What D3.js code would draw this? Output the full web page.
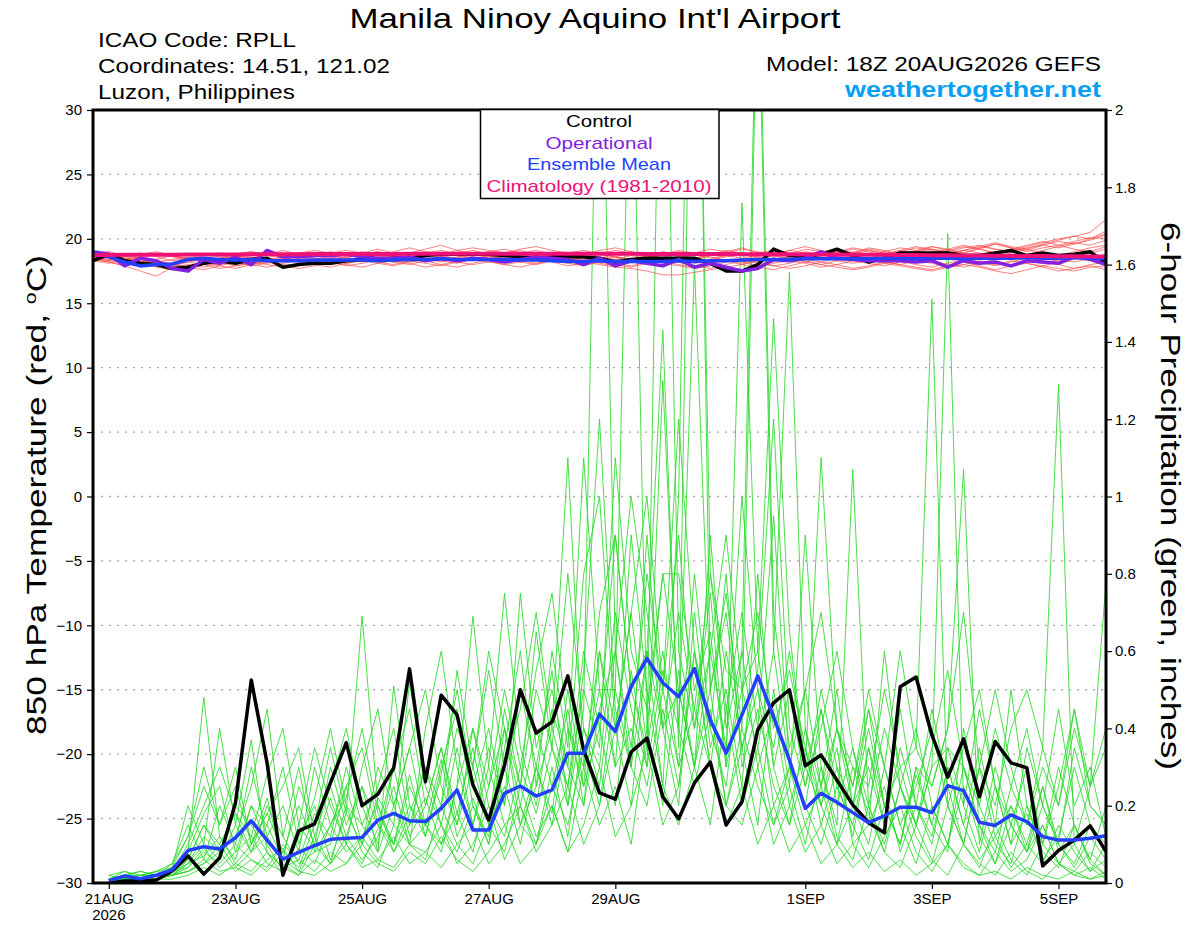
<!DOCTYPE html>
<html>
<head>
<meta charset="utf-8">
<script src="https://cdn.jsdelivr.net/npm/d3@7"></script>
<style>
  body { margin: 0; background: #fff; }
  svg text { font-family: "Liberation Sans", Arial, Helvetica, sans-serif; }
</style>
</head>
<body>
<svg id="chart"></svg>
<script>
// model run and time axis
const modelRunUtc = Date.UTC(2026, 7, 20, 18);
const stepHours = 6;
const totalSteps = 64;
const dateTickTimes = ['2026-08-21', '2026-08-23', '2026-08-25', '2026-08-27', '2026-08-29', '2026-09-01', '2026-09-03', '2026-09-05'];
const dateTickLabels = ['21AUG', '23AUG', '25AUG', '27AUG', '29AUG', '1SEP', '3SEP', '5SEP'];
const tempTicks = [-30, -25, -20, -15, -10, -5, 0, 5, 10, 15, 20, 25, 30];
const precipTicks = [0, 0.2, 0.4, 0.6, 0.8, 1, 1.2, 1.4, 1.6, 1.8, 2];
const legendLabels = ['Control', 'Operational', 'Ensemble Mean', 'Climatology (1981-2010)'];

// 850 hPa temperature, one value every 6h from the model run (65 values)
const controlTemp = [
  18.3,18.8,18.3,18.1,18.0,17.7,17.8,18.1,18.3,18.1,18.4,18.5,17.8,
  18.0,18.1,18.1,18.3,18.4,18.4,18.5,18.5,18.7,18.8,18.8,18.8,18.8,
  18.7,18.6,18.5,18.6,18.6,18.6,18.5,18.2,18.4,18.5,18.5,18.5,18.5,
  18.1,17.5,17.5,18.0,19.2,18.7,18.6,18.8,19.2,18.7,18.2,18.5,18.9,
  18.9,18.9,18.9,18.7,18.7,18.9,19.1,18.7,18.9,18.7,18.8,19.0,18.1];
const operationalTemp = [
  19.0,18.8,17.9,18.5,18.3,17.7,17.5,18.4,18.1,18.6,18.0,19.1,18.6,
  18.6,18.7,18.7,18.8,18.6,18.5,18.5,18.6,18.3,18.5,18.3,18.5,18.4,
  18.2,18.4,18.6,18.5,18.4,18.0,18.5,17.9,18.3,18.1,17.9,18.4,17.8,
  18.1,17.8,17.5,17.7,18.4,18.3,18.5,19.0,18.5,18.4,18.3,18.3,18.3,
  18.2,18.3,17.8,18.3,18.1,18.2,17.9,18.3,18.2,18.1,18.6,18.4,18.0];
const ensembleMeanTemp = [
  18.90,18.60,18.20,17.90,18.00,18.05,18.40,18.50,18.40,18.35,18.40,18.30,18.30,
  18.30,18.35,18.35,18.35,18.35,18.30,18.35,18.40,18.40,18.45,18.40,18.40,18.40,
  18.40,18.35,18.35,18.30,18.25,18.25,18.30,18.25,18.25,18.25,18.25,18.30,18.25,
  18.30,18.30,18.35,18.40,18.40,18.40,18.45,18.45,18.45,18.45,18.45,18.50,18.50,
  18.45,18.50,18.50,18.45,18.50,18.50,18.50,18.55,18.50,18.50,18.55,18.50,18.45];
const climatologyTemp = [
  18.75,18.75,18.76,18.76,18.77,18.77,18.78,18.78,18.79,18.79,18.80,18.80,18.81,
  18.81,18.82,18.82,18.82,18.83,18.83,18.83,18.84,18.84,18.84,18.84,18.85,18.85,
  18.85,18.85,18.85,18.85,18.85,18.84,18.84,18.84,18.84,18.83,18.83,18.83,18.82,
  18.82,18.82,18.81,18.81,18.80,18.80,18.79,18.79,18.78,18.77,18.77,18.76,18.75,
  18.74,18.73,18.72,18.71,18.70,18.69,18.68,18.67,18.66,18.65,18.64,18.63,18.62];

// ensemble member temperatures
const tempM01 = [18.6,18.4,18.2,18.0,17.9,18.1,18.3,18.5,18.4,18.6,18.8,18.5,18.3,18.4,18.6,18.7,18.5,18.8,19.0,18.7,18.5,18.6,18.9,18.7,18.4,18.6,18.8,19.1,18.7,18.5,18.3,18.6,18.9,18.6,18.4,18.7,19.0,18.8,18.5,18.7,19.0,19.3,18.9,18.6,18.8,19.2,19.0,18.7,18.9,19.3,19.1,18.8,19.0,19.4,19.2,18.9,19.3,19.6,19.3,19.1,19.5,19.8,19.6,19.9,20.3];
const tempM02 = [18.7,18.9,18.5,18.2,18.3,18.0,17.8,18.0,18.2,17.9,18.1,18.3,18.0,17.9,18.2,18.4,18.1,18.3,18.5,18.2,18.4,18.6,18.3,18.1,18.4,18.7,18.5,18.2,18.0,18.3,18.6,18.4,18.1,17.9,18.2,18.5,18.3,18.0,17.8,18.1,18.4,18.2,17.9,18.2,18.5,18.3,18.0,18.3,18.6,18.4,18.1,18.3,18.0,17.8,18.1,18.4,18.2,17.9,18.2,18.5,18.3,18.0,17.7,18.0,18.2];
const tempM03 = [18.5,18.3,18.6,18.4,18.1,17.9,18.2,18.0,17.7,17.9,18.2,18.4,18.6,18.9,18.7,18.5,18.8,19.0,18.8,18.6,18.9,19.2,19.5,19.1,18.8,18.9,18.7,18.5,18.8,18.6,18.4,18.2,18.0,17.8,17.7,17.5,17.2,17.2,17.4,17.6,17.8,18.0,18.3,18.5,18.4,18.7,18.9,18.6,18.8,19.1,18.9,18.7,19.0,19.2,18.9,19.1,19.4,19.2,19.0,19.3,19.5,19.3,19.6,20.0,20.6];
const tempM04 = [18.8,18.6,18.3,18.5,18.2,18.4,18.6,18.3,18.5,18.8,19.0,18.7,18.5,18.2,18.4,18.7,18.5,18.3,18.6,18.9,18.7,18.4,18.2,18.5,18.8,19.0,19.2,18.9,18.6,18.4,18.7,18.5,18.2,18.4,18.7,18.5,18.8,19.1,18.9,18.6,18.3,18.1,18.4,18.7,18.5,18.2,18.5,18.8,19.0,18.8,18.5,18.3,18.6,18.9,19.2,19.5,19.2,18.9,19.1,19.4,19.7,20.0,20.2,20.5,21.5];
const tempM05 = [18.4,18.2,17.9,17.5,17.1,17.8,18.0,17.8,18.1,18.3,18.0,17.8,18.1,18.3,18.1,18.0,18.2,18.4,18.2,18.0,18.3,18.1,17.9,18.2,18.4,18.2,18.0,17.8,18.1,18.3,18.5,18.2,18.4,18.6,18.3,18.1,18.4,18.2,17.9,18.1,18.3,18.0,17.8,17.6,17.9,18.2,18.0,17.8,17.6,17.8,18.1,17.9,17.7,17.5,17.8,18.0,17.8,17.5,17.3,17.6,17.9,17.7,17.5,17.8,17.9];
const tempM06 = [18.9,19.0,18.7,18.5,18.8,18.6,18.4,18.7,18.9,18.7,18.5,18.8,19.1,18.8,18.6,18.9,19.1,18.9,18.7,19.0,19.3,19.0,18.8,19.1,19.3,19.1,18.9,19.2,19.4,19.1,18.9,18.7,18.9,19.1,18.9,18.6,18.8,19.0,18.8,18.5,18.7,18.9,18.6,18.4,18.7,19.0,18.8,18.6,18.9,19.2,19.0,18.8,19.1,19.4,19.1,18.9,19.2,19.6,19.3,19.0,19.3,19.5,19.2,19.0,19.4];
const tempM07 = [18.3,18.1,18.4,18.6,18.3,18.1,17.8,17.6,17.9,18.2,18.0,18.3,18.5,18.2,18.0,17.8,18.1,18.3,18.1,17.9,18.2,18.5,18.3,18.6,18.9,18.7,18.4,18.6,18.9,18.7,18.4,18.2,18.5,18.8,19.0,18.7,18.5,18.3,18.1,18.3,18.6,18.8,18.5,18.3,18.6,18.4,18.2,18.5,18.7,18.5,18.2,18.0,18.3,18.1,17.8,18.0,18.3,18.1,17.9,18.2,18.5,18.3,18.6,18.9,19.2];
const tempM08 = [18.6,18.7,18.4,18.2,18.4,18.7,18.5,18.2,18.0,18.3,18.6,18.4,18.2,18.5,18.8,18.6,18.4,18.2,18.5,18.7,18.5,18.3,18.6,18.9,18.6,18.4,18.7,18.5,18.3,18.6,18.9,19.1,18.8,18.6,18.9,18.7,18.4,18.6,18.9,19.2,19.0,18.7,18.9,19.1,18.8,18.6,18.9,19.2,18.9,18.7,19.0,19.3,19.1,18.8,19.1,19.4,19.2,18.9,19.2,19.5,19.8,19.5,19.8,20.1,20.0];
const tempM09 = [18.5,18.3,18.1,18.3,18.0,17.7,17.9,18.2,18.4,18.2,17.9,18.1,18.4,18.6,18.4,18.2,17.9,18.1,18.4,18.2,18.0,18.3,18.5,18.2,18.0,18.2,18.5,18.3,18.1,18.3,18.1,17.9,18.2,18.0,17.8,18.1,18.3,18.5,18.2,18.0,17.7,17.5,17.8,18.1,18.3,18.1,17.8,18.0,18.3,18.1,17.9,18.2,18.5,18.3,18.0,17.8,18.1,18.4,18.6,18.3,18.1,18.4,18.2,18.5,18.8];
const tempM10 = [18.7,18.5,18.7,18.9,18.6,18.3,18.5,18.8,18.6,18.4,18.7,19.0,18.7,18.5,18.7,19.0,18.8,18.5,18.7,18.5,18.2,18.4,18.7,18.5,18.3,18.6,18.4,18.2,18.5,18.8,18.6,18.3,18.6,18.4,18.2,18.5,18.7,18.4,18.2,18.4,18.7,18.5,18.7,19.0,18.8,18.5,18.8,19.0,18.7,18.5,18.8,19.1,18.9,18.6,18.8,19.1,18.9,18.6,18.9,19.2,18.9,18.7,19.0,19.3,19.5];
const tempM11 = [18.4,18.6,18.8,18.5,18.3,18.0,18.2,18.4,18.2,18.5,18.3,18.0,17.8,18.1,18.3,18.5,18.3,18.6,18.4,18.2,18.5,18.3,18.0,17.8,18.1,18.4,18.6,18.4,18.7,18.9,18.7,18.5,18.3,18.0,18.2,18.4,18.1,17.9,17.7,17.9,18.2,18.4,18.2,17.9,18.1,18.4,18.6,18.3,18.1,18.3,18.6,18.4,18.2,18.5,18.7,18.5,18.2,18.0,18.3,18.1,17.9,18.2,18.4,18.7,18.6];
const tempM12 = [18.6,18.4,18.6,18.8,19.0,18.7,18.4,18.3,18.5,18.8,19.0,18.8,18.6,18.9,19.1,18.9,18.6,18.8,19.0,18.8,18.6,18.9,19.1,18.8,18.5,18.7,18.9,18.7,18.4,18.6,18.3,18.5,18.8,18.6,18.4,18.7,18.9,18.6,18.4,18.7,18.9,19.2,19.0,18.8,19.1,18.9,18.7,19.0,19.3,19.1,18.8,19.1,19.4,19.2,19.0,19.3,19.5,19.2,19.0,18.8,19.1,19.4,19.7,19.5,19.9];
const tempM13 = [18.5,18.2,17.9,18.1,17.8,17.6,17.9,18.1,17.9,17.7,18.0,18.2,17.9,17.7,17.9,18.2,18.0,17.8,18.1,18.3,18.1,17.8,18.0,18.3,18.5,18.3,18.0,18.2,18.4,18.2,17.9,18.1,18.3,18.1,17.9,18.2,18.4,18.2,17.9,17.7,18.0,18.3,18.1,17.9,17.7,17.9,18.2,18.0,17.7,17.9,18.2,18.0,17.8,17.6,17.9,18.2,17.9,17.6,17.9,18.1,17.8,17.5,17.7,17.9,17.6];
const tempM14 = [18.8,18.6,18.4,18.6,18.9,18.7,18.5,18.2,18.4,18.7,18.5,18.2,18.4,18.7,18.5,18.3,18.6,18.9,19.2,18.9,18.7,18.4,18.6,18.9,19.1,18.8,18.6,18.9,19.1,18.8,18.6,18.8,19.1,19.3,19.0,18.7,18.9,18.7,18.5,18.8,19.1,18.9,18.6,18.8,19.1,19.4,19.1,18.9,19.2,19.0,18.7,19.0,19.3,19.1,18.8,19.1,19.4,19.7,19.4,19.2,19.6,19.9,20.2,20.0,20.4];

// 6-hour precipitation (inches), first value is the 6h ending 00Z 21AUG (64 values)
const controlPrecip = [
  0.000,0.005,0.005,0.008,0.031,0.070,0.023,0.065,
  0.207,0.525,0.310,0.020,0.135,0.153,0.259,0.363,
  0.200,0.230,0.298,0.554,0.262,0.486,0.435,0.254,
  0.163,0.305,0.500,0.388,0.417,0.536,0.344,0.233,
  0.217,0.339,0.375,0.223,0.166,0.259,0.313,0.150,
  0.210,0.396,0.466,0.500,0.303,0.331,0.266,0.202,
  0.156,0.130,0.508,0.533,0.383,0.274,0.373,0.223,
  0.366,0.311,0.298,0.044,0.084,0.111,0.148,0.081];
const ensembleMeanPrecip = [
  0.006,0.018,0.011,0.020,0.034,0.084,0.094,0.088,
  0.117,0.161,0.111,0.062,0.079,0.097,0.113,0.116,
  0.118,0.163,0.180,0.161,0.159,0.193,0.241,0.137,
  0.137,0.232,0.251,0.225,0.241,0.336,0.336,0.437,
  0.392,0.508,0.581,0.518,0.482,0.555,0.422,0.336,
  0.435,0.536,0.430,0.318,0.193,0.232,0.209,0.182,
  0.156,0.174,0.196,0.196,0.182,0.252,0.239,0.157,
  0.149,0.176,0.159,0.120,0.111,0.111,0.116,0.122];

// ensemble member precipitation
const precipM01 = [0.01,0.02,0.01,0.02,0.03,0.08,0.48,0.12, 0.06,0.20,0.10,0.03,0.15,0.09,0.22,0.10, 0.05,0.14,0.30,0.12,0.20,0.35,0.18,0.08, 0.25,0.40,0.15,0.30,0.55,0.20,0.45,2.60, 0.60,0.30,0.90,0.40,0.20,0.70,0.35,0.50, 0.25,0.80,0.30,0.15,0.40,0.20,0.10,0.30, 0.18,0.08,0.25,0.12,0.05,0.20,0.10,0.04, 0.15,0.06,0.02,0.10,0.05,0.03,0.08,0.04];
const precipM02 = [0.00,0.01,0.02,0.01,0.02,0.05,0.10,0.40, 0.15,0.37,0.08,0.02,0.12,0.20,0.06,0.18, 0.69,0.20,0.10,0.28,0.12,0.30,0.45,0.20, 0.10,0.35,0.60,0.25,0.40,1.10,0.30,0.50, 0.50,2.40,0.40,0.80,0.50,0.30,0.90,0.40, 0.60,2.50,0.70,0.35,0.50,0.25,0.40,0.20, 0.30,0.15,0.35,0.20,0.45,0.25,0.10,0.30, 0.12,0.20,0.08,0.15,0.05,0.10,0.03,0.06];
const precipM03 = [0.01,0.03,0.01,0.02,0.04,0.12,0.25,0.15, 0.30,0.10,0.22,0.05,0.02,0.10,0.30,0.15, 0.25,0.08,0.51,0.20,0.15,0.10,0.25,0.40, 0.20,0.12,0.30,0.18,0.35,0.25,0.60,0.40, 0.90,0.50,0.60,1.43,0.35,3.00,0.80,0.45, 0.70,0.40,0.95,0.30,0.20,0.45,0.25,0.15, 0.35,0.20,0.10,0.28,0.15,0.35,0.20,0.08, 0.25,0.10,0.18,0.06,0.12,0.30,0.15,0.10];
const precipM04 = [0.02,0.01,0.01,0.03,0.02,0.06,0.15,0.08, 0.12,0.25,0.45,0.12,0.05,0.08,0.15,0.25, 0.10,0.22,0.15,0.52,0.25,0.15,0.35,0.15, 0.30,0.75,0.35,0.20,0.45,0.30,0.80,1.00, 0.40,0.70,0.35,2.80,0.60,0.40,0.75,0.30, 0.50,0.35,0.60,1.58,0.40,0.25,0.50,0.20, 0.10,0.30,0.15,0.05,0.20,0.10,0.25,0.12, 0.05,0.15,0.08,0.20,0.10,0.04,0.12,0.06];
const precipM05 = [0.00,0.01,0.00,0.01,0.02,0.03,0.05,0.10, 0.04,0.08,0.15,0.06,0.03,0.12,0.05,0.20, 0.08,0.04,0.15,0.10,0.06,0.20,0.10,0.05, 0.15,0.08,0.25,0.12,0.20,0.08,0.30,0.15, 0.25,0.10,0.40,0.20,0.55,0.30,0.15,0.45, 0.20,0.35,0.15,0.25,0.10,0.30,0.12,0.06, 0.20,0.08,0.04,0.15,0.06,0.02,0.10,0.05, 0.02,0.08,0.03,0.01,0.05,0.02,0.01,0.03];
const precipM06 = [0.01,0.02,0.03,0.02,0.03,0.10,0.20,0.30, 0.18,0.12,0.28,0.40,0.15,0.35,0.20,0.10, 0.30,0.45,0.20,0.35,0.50,0.25,0.15,0.30, 0.55,0.30,0.45,0.70,0.40,0.25,0.50,0.35, 1.10,0.60,0.45,0.80,0.80,0.50,0.65,0.30, 1.76,0.60,0.30,0.50,0.25,0.40,0.60,0.35, 0.20,0.40,0.25,0.15,0.35,0.55,0.30,0.20, 0.40,0.25,0.15,0.30,0.20,0.45,0.25,0.35];
const precipM07 = [0.00,0.00,0.01,0.01,0.02,0.04,0.08,0.05, 0.10,0.06,0.03,0.08,0.20,0.10,0.05,0.12, 0.25,0.15,0.08,0.18,0.30,0.15,0.08,0.20, 0.12,0.40,0.20,0.10,0.25,0.45,0.20,0.60, 0.30,0.90,0.50,0.25,1.00,3.20,0.50,0.70, 0.35,0.50,0.20,0.30,0.15,0.25,0.10,0.20, 0.45,0.20,0.10,0.30,0.15,0.08,0.40,0.20, 0.10,0.05,0.20,0.08,0.04,0.15,0.06,0.02];
const precipM08 = [0.01,0.01,0.02,0.03,0.05,0.15,0.06,0.20, 0.10,0.30,0.12,0.06,0.25,0.15,0.35,0.18, 0.10,0.30,0.20,0.10,0.40,0.60,0.30,0.15, 0.35,0.20,0.50,0.30,0.15,0.40,0.25,0.70, 0.90,0.50,0.35,0.60,0.30,0.45,0.80,0.55, 0.50,0.60,1.46,0.65,0.30,0.45,0.20,0.35, 0.15,0.60,0.25,0.40,0.20,0.10,0.30,0.15, 0.08,0.25,0.40,0.20,0.10,0.05,0.15,0.08];
const precipM09 = [0.00,0.01,0.01,0.02,0.02,0.05,0.12,0.08, 0.20,0.15,0.08,0.04,0.06,0.18,0.12,0.30, 0.15,0.08,0.20,0.35,0.15,0.08,0.25,0.69, 0.30,0.15,0.20,0.40,0.25,0.15,0.35,0.20, 0.50,0.30,0.20,0.45,0.25,0.60,0.30,0.20, 0.40,0.25,0.15,0.30,0.20,0.10,0.25,0.15, 0.06,0.20,0.10,0.30,0.25,0.40,1.07,0.10, 0.30,0.15,0.08,0.25,0.10,0.35,0.20,0.15];
const precipM10 = [0.01,0.02,0.02,0.03,0.04,0.20,0.10,0.06, 0.15,0.08,0.20,0.12,0.30,0.08,0.10,0.25, 0.35,0.15,0.10,0.20,0.12,0.28,0.50,0.25, 0.40,0.20,0.75,0.35,0.50,0.30,0.20,0.45, 0.60,1.00,0.70,0.40,0.50,0.30,0.60,0.90, 0.50,0.70,0.40,0.55,0.35,0.20,0.40,0.25, 0.50,0.30,0.15,0.25,0.40,0.20,0.10,0.30, 0.50,0.30,0.15,0.35,0.20,0.40,0.25,0.78];
const precipM11 = [0.00,0.01,0.00,0.01,0.01,0.02,0.04,0.02, 0.05,0.03,0.08,0.04,0.02,0.06,0.03,0.05, 0.10,0.05,0.03,0.08,0.05,0.12,0.06,0.03, 0.08,0.15,0.05,0.10,0.20,0.08,0.15,0.30, 0.12,0.20,0.35,0.15,0.25,0.60,0.30,0.15, 0.25,0.10,0.20,0.08,0.15,0.05,0.10,0.04, 0.08,0.03,0.06,0.02,0.05,0.10,0.04,0.02, 0.03,0.01,0.04,0.02,0.01,0.03,0.01,0.02];
const precipM12 = [0.02,0.03,0.02,0.02,0.04,0.08,0.18,0.25, 0.08,0.20,0.15,0.30,0.10,0.22,0.40,0.20, 0.15,0.25,0.40,0.15,0.30,0.20,0.40,0.30, 0.60,0.40,0.25,0.50,0.35,0.80,0.40,0.30, 0.70,0.45,0.30,0.55,0.40,1.60,0.50,0.75, 0.40,2.40,0.60,0.30,0.50,0.70,0.40,0.30, 0.25,0.50,0.30,0.35,1.51,0.20,0.35,0.50, 0.25,0.15,0.30,0.10,0.25,0.45,0.20,0.15];
const precipM13 = [0.00,0.01,0.01,0.01,0.03,0.04,0.09,0.04, 0.08,0.12,0.05,0.03,0.09,0.05,0.15,0.08, 0.12,0.20,0.08,0.15,0.22,0.10,0.18,0.35, 0.15,0.25,0.10,0.30,0.18,0.50,0.25,0.40, 0.20,0.55,0.30,1.30,0.40,0.25,0.45,0.20, 0.35,0.15,0.50,0.25,0.90,0.30,0.15,1.07, 0.20,0.10,0.25,0.15,0.30,0.35,0.30,0.15, 0.05,0.20,0.10,0.05,0.15,0.08,0.03,0.10];
const precipM14 = [0.01,0.02,0.01,0.02,0.03,0.05,0.07,0.12, 0.05,0.10,0.18,0.08,0.04,0.15,0.25,0.12, 0.06,0.12,0.25,0.10,0.15,0.32,0.12,0.22, 0.10,0.30,0.15,0.25,0.60,0.35,1.10,0.50, 0.30,0.40,0.25,0.50,0.30,0.80,0.40,0.25, 0.60,0.30,0.45,0.20,0.35,0.15,0.30,0.12, 0.35,0.15,0.45,0.20,0.10,0.30,0.15,0.35, 0.15,0.50,0.20,0.10,0.30,0.15,0.06,0.20];
const precipM15 = [0.00,0.00,0.01,0.02,0.02,0.03,0.06,0.03, 0.04,0.02,0.06,0.09,0.03,0.02,0.05,0.10, 0.04,0.06,0.12,0.05,0.08,0.04,0.10,0.15, 0.05,0.10,0.20,0.08,0.15,0.25,0.10,0.20, 0.40,0.20,0.60,0.25,0.15,0.30,0.50,0.20, 0.15,0.30,0.10,0.20,0.08,0.15,0.05,0.10, 0.04,0.12,0.20,0.08,0.03,0.10,0.05,0.02, 0.08,0.03,0.06,0.15,0.05,0.02,0.04,0.01];
const precipM16 = [0.01,0.02,0.03,0.02,0.05,0.12,0.30,0.15, 0.25,0.10,0.18,0.25,0.35,0.12,0.25,0.40, 0.20,0.10,0.30,0.45,0.20,0.35,0.15,0.40, 0.25,0.50,0.30,0.55,0.75,0.40,0.30,0.60, 0.40,0.70,1.00,0.50,0.90,0.40,0.60,0.35, 1.00,0.50,0.35,0.60,0.30,1.10,0.40,0.25, 0.45,0.30,0.60,0.35,0.25,0.40,0.70,0.30, 0.20,0.40,0.50,0.35,1.29,0.10,0.25,0.40];
const precipM17 = [0.00,0.01,0.01,0.01,0.02,0.03,0.05,0.08, 0.03,0.06,0.04,0.10,0.06,0.03,0.08,0.05, 0.12,0.06,0.04,0.10,0.08,0.15,0.05,0.10, 0.20,0.06,0.15,0.10,0.30,0.12,0.40,0.25, 0.60,0.35,0.80,0.50,1.20,0.60,0.40,0.80, 0.30,0.45,0.25,0.15,0.30,0.20,0.35,0.10, 0.15,0.25,0.08,0.20,0.12,0.30,0.15,0.06, 0.12,0.04,0.10,0.25,0.08,0.15,0.05,0.02];
const precipM18 = [0.01,0.01,0.02,0.02,0.03,0.06,0.15,0.10, 0.18,0.08,0.12,0.20,0.08,0.30,0.15,0.22, 0.40,0.18,0.10,0.25,0.15,0.20,0.55,0.30, 0.15,0.45,0.25,0.65,0.35,0.20,0.55,1.20, 0.45,0.30,0.60,0.40,0.70,0.45,0.30,0.60, 0.35,0.55,1.20,0.40,0.25,0.50,0.30,0.20, 0.40,0.20,0.30,0.15,0.30,1.68,0.20,0.45, 0.25,0.10,0.35,0.20,0.45,0.20,0.30,0.12];

const memberTemps = [tempM01, tempM02, tempM03, tempM04, tempM05, tempM06, tempM07,
                     tempM08, tempM09, tempM10, tempM11, tempM12, tempM13, tempM14];
const memberPrecips = [precipM01, precipM02, precipM03, precipM04, precipM05, precipM06,
                       precipM07, precipM08, precipM09, precipM10, precipM11, precipM12,
                       precipM13, precipM14, precipM15, precipM16, precipM17, precipM18];

// the reference lettering is wider than Liberation Sans, so stretch to its widths
function stretchText(sel, width) {
  sel.attr('textLength', width).attr('lengthAdjust', 'spacingAndGlyphs');
}

class meteogramChart {

  /**
   * Class constructor with basic chart configuration
   * @param {Object}
   */
  constructor(_config) {
    this.config = {
      parentElement: _config.parentElement,
      containerWidth: _config.containerWidth || 1200,
      containerHeight: _config.containerHeight || 927,
      margin: _config.margin || {top: 110, right: 94, bottom: 44, left: 93}
    }
    this.initVis();
  }

  /**
   * Scales, axes and static text
   */
  initVis() {
    let vis = this;

    vis.width = vis.config.containerWidth - vis.config.margin.left - vis.config.margin.right;
    vis.height = vis.config.containerHeight - vis.config.margin.top - vis.config.margin.bottom;

    vis.xScale = d3.scaleUtc()
        .domain([modelRunUtc, modelRunUtc + totalSteps * stepHours * 3600e3])
        .range([0, vis.width]);

    vis.tempScale = d3.scaleLinear()
        .domain([-30, 30])
        .range([vis.height, 0]);

    vis.precipScale = d3.scaleLinear()
        .domain([0, 2])
        .range([vis.height, 0]);

    vis.svg = d3.select(vis.config.parentElement)
        .attr('width', vis.config.containerWidth)
        .attr('height', vis.config.containerHeight);

    vis.chart = vis.svg.append('g')
        .attr('transform', `translate(${vis.config.margin.left},${vis.config.margin.top})`);

    vis.chart.append('clipPath')
        .attr('id', 'plot-clip')
      .append('rect')
        .attr('width', vis.width)
        .attr('height', vis.height);

    // titles
    vis.svg.append('text')
        .attr('x', 595)
        .attr('y', 28)
        .attr('text-anchor', 'middle')
        .style('font-size', '28px')
        .text("Manila Ninoy Aquino Int'l Airport")
        .call(stretchText, 491);

    const infoLines = ['ICAO Code: RPLL', 'Coordinates: 14.51, 121.02', 'Luzon, Philippines'];
    const infoWidths = [198, 292, 197];
    vis.svg.selectAll('.info')
        .data(infoLines)
      .join('text')
        .attr('class', 'info')
        .attr('x', 98)
        .attr('y', (d, i) => 47 + i * 26)
        .style('font-size', '21px')
        .attr('textLength', (d, i) => infoWidths[i])
        .attr('lengthAdjust', 'spacingAndGlyphs')
        .text(d => d);

    vis.svg.append('text')
        .attr('x', 1101)
        .attr('y', 71)
        .attr('text-anchor', 'end')
        .style('font-size', '21px')
        .text('Model: 18Z 20AUG2026 GEFS')
        .call(stretchText, 335);

    vis.svg.append('text')
        .attr('x', 1101)
        .attr('y', 97)
        .attr('text-anchor', 'end')
        .style('font-size', '22px')
        .style('font-weight', 'bold')
        .attr('fill', '#0a9ff5')
        .text('weathertogether.net')
        .call(stretchText, 256);

    // axis titles
    let leftTitle = vis.svg.append('text')
        .attr('transform', 'translate(46,495) rotate(-90)')
        .attr('text-anchor', 'middle')
        .style('font-size', '28px');
    leftTitle.append('tspan').text('850 hPa Temperature (red, ');
    leftTitle.append('tspan').attr('dy', -10).style('font-size', '17px').text('o');
    leftTitle.append('tspan').attr('dy', 10).text('C)');
    stretchText(leftTitle, 480);

    vis.svg.append('text')
        .attr('transform', 'translate(1161,496) rotate(90)')
        .attr('text-anchor', 'middle')
        .style('font-size', '28px')
        .text('6-hour Precipitation (green, inches)')
        .call(stretchText, 548);

    vis.renderVis();
  }

  timeAt(step) {
    return modelRunUtc + step * stepHours * 3600e3;
  }

  /**
   * Draw lines, axes and legend
   */
  renderVis() {
    let vis = this;

    // dotted grid on temperature ticks
    vis.chart.selectAll('.grid')
        .data(tempTicks.filter(d => d > -30 && d < 30))
      .join('line')
        .attr('class', 'grid')
        .attr('x1', 0)
        .attr('x2', vis.width)
        .attr('y1', d => vis.tempScale(d))
        .attr('y2', d => vis.tempScale(d))
        .attr('stroke', '#a8a8a8')
        .attr('stroke-width', 1.3)
        .attr('stroke-dasharray', '2,6');

    let plot = vis.chart.append('g').attr('clip-path', 'url(#plot-clip)');

    const tempLine = d3.line()
        .x((d, i) => vis.xScale(vis.timeAt(i)))
        .y(d => vis.tempScale(d));

    const precipLine = d3.line()
        .x((d, i) => vis.xScale(vis.timeAt(i + 1)))
        .y(d => vis.precipScale(d));

    plot.selectAll('.precip-member')
        .data(memberPrecips)
      .join('path')
        .attr('class', 'precip-member')
        .attr('d', precipLine)
        .attr('fill', 'none')
        .attr('stroke', '#2ad82a')
        .attr('stroke-opacity', 0.85)
        .attr('stroke-width', 1);

    plot.selectAll('.temp-member')
        .data(memberTemps)
      .join('path')
        .attr('class', 'temp-member')
        .attr('d', tempLine)
        .attr('fill', 'none')
        .attr('stroke', '#ff4a4a')
        .attr('stroke-opacity', 0.7)
        .attr('stroke-width', 1);

    const thickPrecip = [
      {values: controlPrecip, color: '#000000'},
      {values: ensembleMeanPrecip, color: '#2440ff'}
    ];
    plot.selectAll('.precip-main')
        .data(thickPrecip)
      .join('path')
        .attr('class', 'precip-main')
        .attr('d', d => precipLine(d.values))
        .attr('fill', 'none')
        .attr('stroke', d => d.color)
        .attr('stroke-width', 3.5)
        .attr('stroke-linejoin', 'round');

    const thickTemp = [
      {values: controlTemp, color: '#000000'},
      {values: operationalTemp, color: '#8420e0'},
      {values: ensembleMeanTemp, color: '#2440ff'},
      {values: climatologyTemp, color: '#ee1177'}
    ];
    plot.selectAll('.temp-main')
        .data(thickTemp)
      .join('path')
        .attr('class', 'temp-main')
        .attr('d', d => tempLine(d.values))
        .attr('fill', 'none')
        .attr('stroke', d => d.color)
        .attr('stroke-width', (d, i) => i === 3 ? 4 : 3.5)
        .attr('stroke-linejoin', 'round');

    // axes
    vis.yAxisG = vis.chart.append('g')
        .call(d3.axisLeft(vis.tempScale).tickValues(tempTicks).tickSize(6).tickPadding(5));

    vis.y2AxisG = vis.chart.append('g')
        .attr('transform', `translate(${vis.width},0)`)
        .call(d3.axisRight(vis.precipScale).tickValues(precipTicks)
            .tickFormat(d3.format('~g')).tickSize(6).tickPadding(3));

    vis.xAxisG = vis.chart.append('g')
        .attr('transform', `translate(0,${vis.height})`)
        .call(d3.axisBottom(vis.xScale)
            .tickValues(dateTickTimes.map(d => new Date(d + 'T00:00:00Z')))
            .tickFormat((d, i) => dateTickLabels[i])
            .tickSize(6).tickPadding(4));

    [vis.yAxisG, vis.y2AxisG, vis.xAxisG].forEach(g => {
      g.select('.domain').remove();
      g.selectAll('.tick line').attr('stroke', '#000').attr('stroke-width', 1.2);
      g.selectAll('.tick text')
          .attr('fill', '#000')
          .style('font-family', '"Liberation Sans", Arial, sans-serif')
          .style('font-size', '15px');
    });

    vis.xAxisG.append('text')
        .attr('x', vis.xScale(new Date(dateTickTimes[0] + 'T00:00:00Z')))
        .attr('y', 37)
        .attr('text-anchor', 'middle')
        .attr('fill', '#000')
        .style('font-size', '15px')
        .text('2026');

    // frame
    vis.chart.append('rect')
        .attr('width', vis.width)
        .attr('height', vis.height)
        .attr('fill', 'none')
        .attr('stroke', '#000')
        .attr('stroke-width', 3);

    // legend
    const legendColors = ['#000000', '#8420e0', '#2440ff', '#ee1177'];
    const legendWidths = [66, 107, 144, 225];
    vis.chart.append('rect')
        .attr('x', 387.5)
        .attr('y', -0.5)
        .attr('width', 238.5)
        .attr('height', 89)
        .attr('fill', '#fff')
        .attr('stroke', '#000')
        .attr('stroke-width', 1.5);

    vis.chart.selectAll('.legend-label')
        .data(legendLabels)
      .join('text')
        .attr('class', 'legend-label')
        .attr('x', 506)
        .attr('y', (d, i) => 17 + i * 21.5)
        .attr('text-anchor', 'middle')
        .attr('fill', (d, i) => legendColors[i])
        .style('font-size', '17px')
        .attr('textLength', (d, i) => legendWidths[i])
        .attr('lengthAdjust', 'spacingAndGlyphs')
        .text(d => d);
  }
}

new meteogramChart({parentElement: '#chart'});
</script>
</body>
</html>
